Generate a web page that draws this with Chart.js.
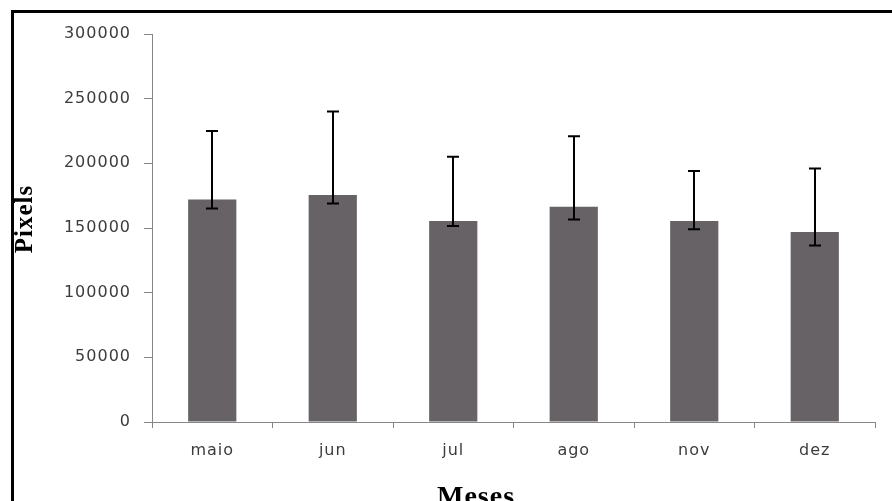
<!DOCTYPE html>
<html>
<head>
<meta charset="utf-8">
<script src="https://cdn.jsdelivr.net/npm/chart.js@4/dist/chart.umd.min.js"></script>
<style>
  html, body { margin: 0; padding: 0; background: #ffffff; overflow: hidden; }
  #wrap { width: 892px; height: 501px; position: relative; }
  canvas { display: block; }
</style>
</head>
<body>
<div id="wrap"><canvas id="c" width="892" height="501"></canvas></div>
<script>
// ---- data ----
const categories = ['maio', 'jun', 'jul', 'ago', 'nov', 'dez'];
const values     = [172000, 175500, 155500, 166500, 155500, 147000];
const errLow     = [165000, 169000, 151500, 156500, 149000, 136500];
const errHigh    = [225000, 240000, 205000, 221000, 194000, 196000];
const yMin = 0, yMax = 300000, yStep = 50000;
const yTitle = 'Pixels';
const xTitle = 'Meses';

const tickFont = { family: 'DejaVu Sans', size: 16 };
const tickColor = '#3c3c3c';
const axisColor = '#868686';

const setupPlugin = {
  id: 'setup',
  beforeUpdate(chart) { chart.ctx.letterSpacing = '1px'; }
};

const frameAndErrors = {
  id: 'frameAndErrors',
  beforeDraw(chart) {
    const ctx = chart.ctx;
    ctx.save();
    ctx.fillStyle = '#ffffff';
    ctx.fillRect(0, 0, chart.width, chart.height);
    ctx.restore();
  },
  afterDatasetsDraw(chart) {
    const ctx = chart.ctx;
    const xs = chart.scales.x, ys = chart.scales.y;
    ctx.save();
    ctx.strokeStyle = '#000000';
    ctx.lineWidth = 2;
    categories.forEach((c, i) => {
      const x = Math.round(xs.getPixelForValue(i));
      const yl = ys.getPixelForValue(errLow[i]);
      const yh = ys.getPixelForValue(errHigh[i]);
      ctx.beginPath();
      ctx.moveTo(x, yl); ctx.lineTo(x, yh);
      ctx.moveTo(x - 6, yh); ctx.lineTo(x + 6, yh);
      ctx.moveTo(x - 6, yl); ctx.lineTo(x + 6, yl);
      ctx.stroke();
    });
    ctx.restore();
  },
  afterDraw(chart) {
    const ctx = chart.ctx;
    ctx.save();
    // frame (top and left)
    ctx.fillStyle = '#000000';
    ctx.fillRect(11, 10, chart.width - 11, 3);
    ctx.fillRect(11, 10, 3, chart.height - 10);
    // axis titles
    ctx.fillStyle = '#000000';
    ctx.letterSpacing = '1px';
    ctx.font = 'bold 25px "Liberation Serif"';
    ctx.textAlign = 'center';
    ctx.textBaseline = 'alphabetic';
    ctx.save();
    ctx.translate(32, 219);
    ctx.rotate(-Math.PI / 2);
    ctx.fillText(yTitle, 0, 0);
    ctx.restore();
    ctx.font = 'bold 28px "Liberation Serif"';
    ctx.fillText(xTitle, 476, 505);
    ctx.restore();
  }
};

new Chart(document.getElementById('c'), {
  type: 'bar',
  data: {
    labels: categories,
    datasets: [{
      data: values,
      backgroundColor: '#666266',
      borderWidth: 0,
      categoryPercentage: 1.0,
      barPercentage: 0.4
    }]
  },
  options: {
    responsive: false,
    devicePixelRatio: 1,
    animation: false,
    layout: { padding: { left: 0, right: 17, top: 34, bottom: 0 } },
    plugins: { legend: { display: false }, tooltip: { enabled: false } },
    scales: {
      x: {
        grid: { drawOnChartArea: false, tickLength: 6, color: axisColor, offset: true },
        border: { color: axisColor },
        ticks: { font: tickFont, color: tickColor, padding: 13, maxRotation: 0 },
        afterFit(s) { s.height = 79; }
      },
      y: {
        min: yMin, max: yMax,
        grid: { drawOnChartArea: false, tickLength: 8, color: axisColor },
        border: { color: axisColor },
        ticks: { stepSize: yStep, font: tickFont, color: tickColor, padding: 13,
                 callback: v => String(v) },
        afterFit(s) { s.width = 152; }
      }
    }
  },
  plugins: [setupPlugin, frameAndErrors]
});
</script>
</body>
</html>
